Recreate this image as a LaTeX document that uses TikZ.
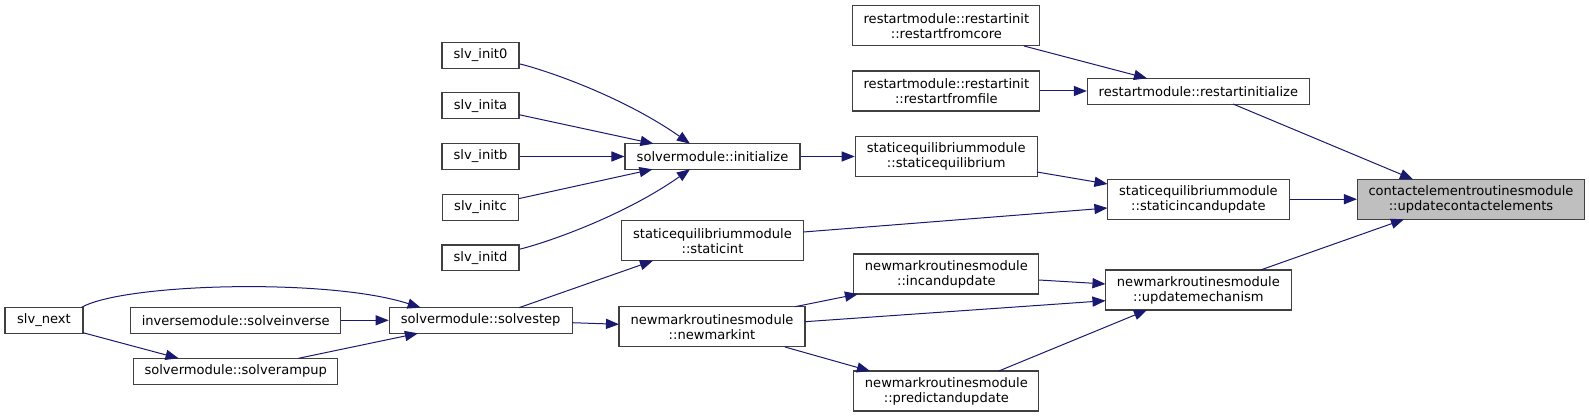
\documentclass[tikz,border=0pt]{standalone}
\usepackage{fontspec}
\setmainfont{DejaVu Sans}
\usetikzlibrary{arrows.meta,calc}
\definecolor{edgeblue}{HTML}{191970}
\definecolor{boxline}{HTML}{404040}
\definecolor{rootfill}{HTML}{BFBFBF}
\tikzset{
  fn/.style 2 args={draw=boxline, line width=0.8pt, rectangle, inner sep=0pt, align=center,
    font=\fontsize{9.8}{11.25}\selectfont, text=black,
    minimum width=#1*0.75pt, minimum height=#2*0.75pt},
  root/.style={fill=rootfill},
  call/.style={draw=edgeblue, line width=0.75pt, -{Triangle[length=9.8pt,width=7.6pt]}, color=edgeblue}
}
\begin{document}
\begin{tikzpicture}[x=0.75pt,y=-0.75pt]
\useasboundingbox (0,0) rectangle (1589,417);
% nodes
\node[fn={77}{25.6}] (init0) at (480.5,55.3) {slv\_init0};
\node[fn={77}{25.6}] (inita) at (480.5,105.7) {slv\_inita};
\node[fn={77}{25.6}] (initb) at (480.5,156.5) {slv\_initb};
\node[fn={76}{25.6}] (initc) at (480.5,207.3) {slv\_initc};
\node[fn={77}{25.6}] (initd) at (480.5,257.8) {slv\_initd};
\node[fn={175}{25.6}] (initz) at (712.5,156.5) {solvermodule::initialize};
\node[fn={182}{40}] (stint) at (712.5,240.7) {staticequilibriummodule\\::staticint};
\node[fn={78}{26}] (next) at (44,320.3) {slv\_next};
\node[fn={210}{26}] (sinv) at (235.7,320.3) {inversemodule::solveinverse};
\node[fn={183}{26}] (sstep) at (480.7,320.3) {solvermodule::solvestep};
\node[fn={204}{26}] (sramp) at (235.7,371.2) {solvermodule::solverampup};
\node[fn={186}{40}] (nmint) at (712,326.8) {newmarkroutinesmodule\\::newmarkint};
\node[fn={187}{40}] (rcore) at (946.4,25.8) {restartmodule::restartinit\\::restartfromcore};
\node[fn={187}{40}] (rfile) at (946.4,91) {restartmodule::restartinit\\::restartfromfile};
\node[fn={222}{26}] (rinit) at (1198.4,91.2) {restartmodule::restartinitialize};
\node[fn={182}{40}] (steq) at (946.2,156.3) {staticequilibriummodule\\::staticequilibrium};
\node[fn={182}{40}] (stinc) at (1198.4,199.2) {staticequilibriummodule\\::staticincandupdate};
\node[fn={227}{40},root] (uce) at (1471,199.3) {contactelementroutinesmodule\\::updatecontactelements};
\node[fn={185}{40}] (incu) at (946.4,274) {newmarkroutinesmodule\\::incandupdate};
\node[fn={186}{40}] (umech) at (1198.4,290) {newmarkroutinesmodule\\::updatemechanism};
\node[fn={185}{40}] (pred) at (946.4,391) {newmarkroutinesmodule\\::predictandupdate};
% edges
\draw[call] ($(init0)+(39.5,8.7)$) .. controls (545,70) and (622,96) .. ($(initz)+(-22.5,-12.8)$);
\draw[call] ($(inita)+(38.5,9)$) -- ($(initz)+(-59,-12.8)$);
\draw[call] (initb.east) -- (initz.west);
\draw[call] ($(initc)+(38,-8.6)$) -- ($(initz)+(-60,12.8)$);
\draw[call] ($(initd)+(39.5,-8.7)$) .. controls (545,243) and (622,217) .. ($(initz)+(-22.5,12.8)$);
\draw[call] (initz.east) -- (initz.east -| steq.west);
\draw[call] ($(steq)+(90.8,15.7)$) -- ($(stinc)+(-90.9,-15.2)$);
\draw[call] ($(stint)+(91,-8.7)$) -- ($(stinc)+(-90.9,8.8)$);
\draw[call] (stinc.east) -- (stinc.east -| uce.west);
\draw[call] ($(rcore)+(77.6,20.2)$) -- ($(rinit)+(-51.4,-12.9)$);
\draw[call] (rfile.east) -- (rfile.east -| rinit.west);
\draw[call] ($(rinit)+(34.6,12.8)$) -- ($(uce)+(-58,-20)$);
\draw[call] ($(umech)+(62.1,-20)$) -- ($(uce)+(-67,20)$);
\draw[call] ($(incu)+(92.6,6)$) -- ($(umech)+(-92.9,-6)$);
\draw[call] ($(nmint)+(93,-5.1)$) -- ($(umech)+(-92.9,10.7)$);
\draw[call] ($(pred)+(52.4,-20)$) -- ($(umech)+(-51.4,20)$);
\draw[call] ($(nmint)+(83,-20.1)$) -- ($(incu)+(-88.4,20)$);
\draw[call] ($(nmint)+(73,20.2)$) -- ($(pred)+(-76.4,-20)$);
\draw[call] ($(sstep)+(38.3,-12.6)$) -- ($(stint)+(-59.5,20)$);
\draw[call] ($(sstep)+(91.3,2.4)$) -- ($(nmint)+(-93,-2.5)$);
\draw[call] ($(next)+(37.6,-13)$) .. controls (125,283) and (330,278) .. ($(sstep)+(-60,-12.6)$);
\draw[call] ($(next)+(39,12.4)$) -- ($(sramp)+(-57.1,-12.9)$);
\draw[call] (sinv.east) -- (sstep.west);
\draw[call] ($(sramp)+(62.8,-12.9)$) -- ($(sstep)+(-62.7,13)$);
\end{tikzpicture}
\end{document}
